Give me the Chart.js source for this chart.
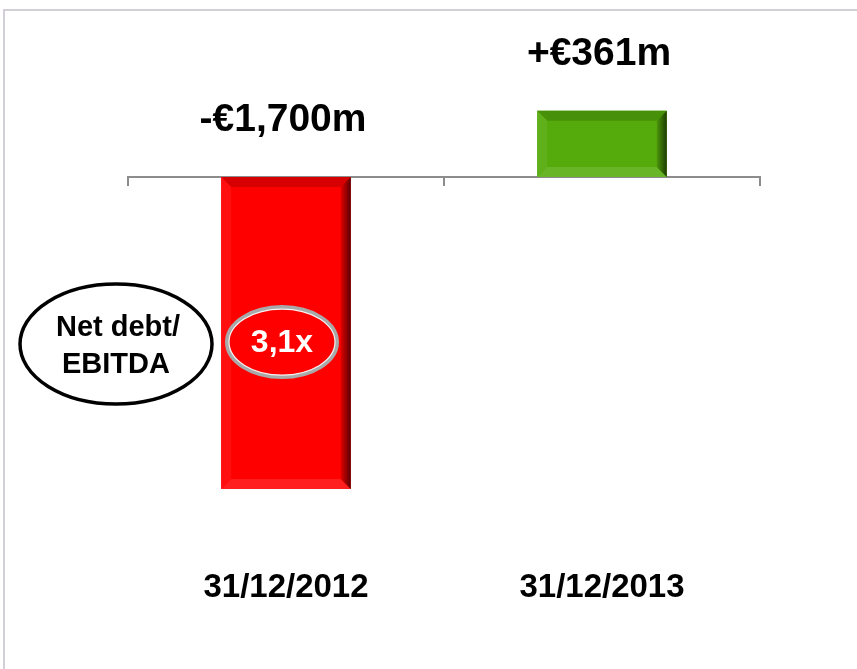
<!DOCTYPE html>
<html>
<head>
<meta charset="utf-8">
<title>Net cash position</title>
<script src="https://cdn.jsdelivr.net/npm/chart.js@4.4.1/dist/chart.umd.min.js"></script>
<style>
  html, body { margin: 0; padding: 0; background: #fff; }
  #wrap { position: relative; width: 857px; height: 669px; }
</style>
</head>
<body>
<div id="wrap"><canvas id="chart" width="857" height="669"></canvas></div>
<script>
// Net cash (+) / net debt (-) in €m at each year end
const categories = ["31/12/2012", "31/12/2013"];
const netCash = [-1700, 361];
const leverage = ["3,1x", null];            // net debt / EBITDA, shown inside the bar
const ratioCaption = ["Net debt/", "EBITDA"];

const FONT = '"Liberation Sans", Arial, Helvetica, sans-serif';
const barColors = ["#ff0000", "#55ab0b"];
const axisGray = "#8c8c8c";

function mix(hex, target, amount) {
  const a = parseInt(hex.slice(1), 16), b = parseInt(target.slice(1), 16);
  const ch = (v, s) => (v >> s) & 255;
  const out = [16, 8, 0].map((s) => Math.round(ch(a, s) + (ch(b, s) - ch(a, s)) * amount));
  return "rgb(" + out.join(",") + ")";
}

function poly(ctx, pts, fill) {
  ctx.beginPath();
  pts.forEach(([px, py], i) => (i ? ctx.lineTo(px, py) : ctx.moveTo(px, py)));
  ctx.closePath();
  ctx.fillStyle = fill;
  ctx.fill();
}

function money(v) {
  return (v < 0 ? "-" : "+") + "€" + Math.abs(v).toLocaleString("en-US") + "m";
}

// light frame along the top and left edge of the slide
const frame = {
  id: "frame",
  beforeDraw(chart) {
    const { ctx, width, height } = chart;
    ctx.save();
    ctx.strokeStyle = "#d2d0d6";
    ctx.lineWidth = 2;
    ctx.beginPath();
    ctx.moveTo(4, height);
    ctx.lineTo(4, 10);
    ctx.lineTo(width, 10);
    ctx.stroke();
    ctx.restore();
  },
};

// bevelled bars, value labels and the leverage bubble
const decorations = {
  id: "decorations",
  afterDatasetsDraw(chart) {
    const { ctx, chartArea } = chart;
    const meta = chart.getDatasetMeta(0);
    ctx.save();
    meta.data.forEach((bar, i) => {
      const { x, y, base, width } = bar.getProps(["x", "y", "base", "width"], true);
      const l = x - width / 2, r = x + width / 2;
      const t = Math.min(y, base), b = Math.max(y, base);
      const e = Math.min(10, (b - t) / 3);
      const col = barColors[i];
      poly(ctx, [[l, t], [r, t], [r - e, t + e], [l + e, t + e]], mix(col, "#000000", 0.16));
      poly(ctx, [[l, t], [l + e, t + e], [l + e, b - e], [l, b]], mix(col, "#ffffff", 0.06));
      poly(ctx, [[l, b], [l + e, b - e], [r - e, b - e], [r, b]], mix(col, "#ffffff", 0.12));
      const g = ctx.createLinearGradient(r - e, 0, r, 0);
      g.addColorStop(0, mix(col, "#000000", 0.12));
      g.addColorStop(1, mix(col, "#000000", 0.65));
      poly(ctx, [[r, t], [r, b], [r - e, b - e], [r - e, t + e]], g);

      ctx.fillStyle = "#000";
      ctx.textAlign = "center";
      ctx.textBaseline = "middle";
      ctx.font = "bold 39px " + FONT;
      ctx.fillText(money(netCash[i]), x - 3, t - 57);

      if (leverage[i]) {
        const cx = x - 4, cy = (t + b) / 2 + 9;
        ctx.beginPath();
        ctx.ellipse(cx, cy, 55, 35, 0, 0, Math.PI * 2);
        ctx.fillStyle = col;
        ctx.fill();
        ctx.lineWidth = 4;
        ctx.strokeStyle = "#a9a9a9";
        ctx.stroke();
        ctx.beginPath();
        ctx.ellipse(cx, cy, 53, 33, 0, 0, Math.PI * 2);
        ctx.lineWidth = 1.2;
        ctx.strokeStyle = "#f4f4f4";
        ctx.stroke();
        ctx.fillStyle = "#fff";
        ctx.font = "bold 32px " + FONT;
        ctx.fillText(leverage[i], cx, cy + 1);

        const ex = chartArea.left - 12, ey = cy + 2;
        ctx.beginPath();
        ctx.ellipse(ex, ey, 96, 60, 0, 0, Math.PI * 2);
        ctx.fillStyle = "#fff";
        ctx.fill();
        ctx.lineWidth = 3.5;
        ctx.strokeStyle = "#000";
        ctx.stroke();
        ctx.fillStyle = "#000";
        ctx.font = "bold 29px " + FONT;
        ctx.fillText(ratioCaption[0], ex + 2, ey - 16);
        ctx.fillText(ratioCaption[1], ex, ey + 21);
      }
    });
    ctx.restore();
  },
};

new Chart(document.getElementById("chart"), {
  type: "bar",
  data: {
    labels: categories,
    datasets: [{
      data: netCash,
      backgroundColor: barColors,
      borderWidth: 0,
      barPercentage: 0.41,
      categoryPercentage: 1,
      xAxisID: "x",
    }],
  },
  options: {
    responsive: false,
    animation: false,
    events: [],
    layout: { padding: { left: 128, right: 97, top: 67, bottom: 59 } },
    plugins: { legend: { display: false }, tooltip: { enabled: false } },
    scales: {
      y: { display: false, min: -2078, max: 600 },
      x: {
        position: { y: 0 },
        offset: true,
        border: { display: true, color: axisGray, width: 2 },
        grid: { display: true, offset: true, drawOnChartArea: false, drawTicks: true, tickLength: 8, color: axisGray, lineWidth: 2 },
        ticks: { display: false },
      },
      xLabels: {
        axis: "x",
        type: "category",
        position: "bottom",
        offset: true,
        labels: categories,
        border: { display: false },
        grid: { display: false },
        ticks: { color: "#000", padding: 2, font: { family: FONT, size: 33, weight: "bold" } },
      },
    },
  },
  plugins: [frame, decorations],
});
</script>
</body>
</html>
